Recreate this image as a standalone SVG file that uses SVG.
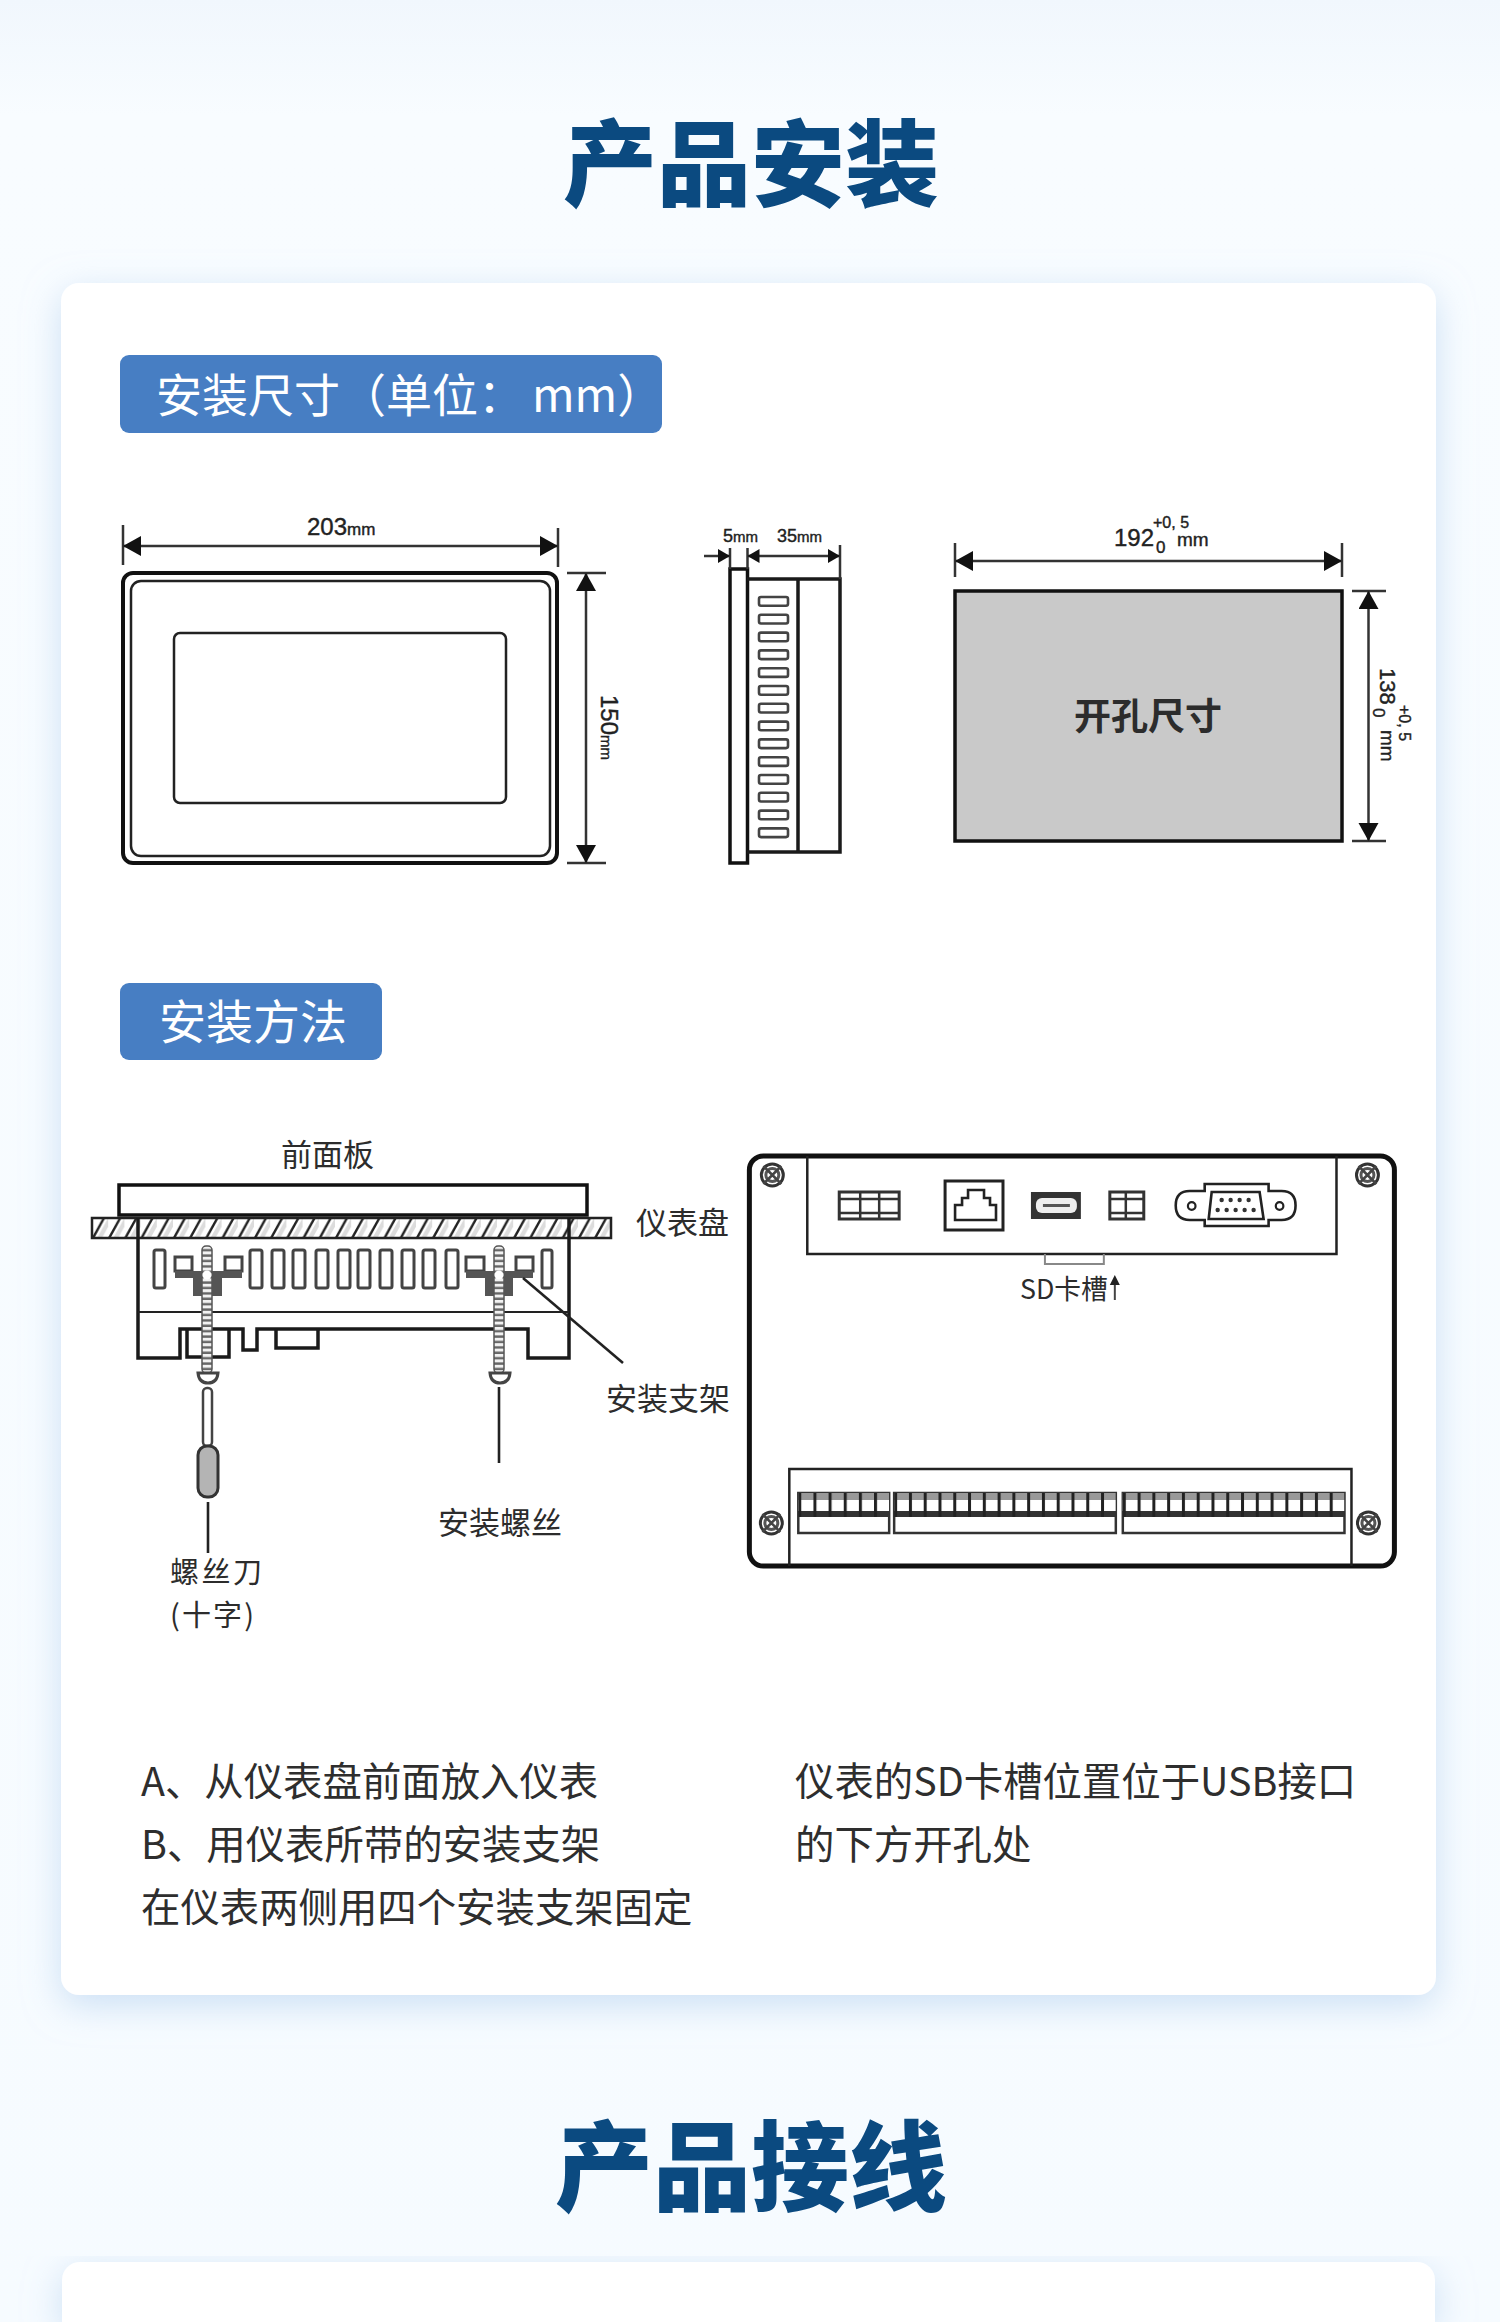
<svg xmlns="http://www.w3.org/2000/svg" width="1500" height="2322" viewBox="0 0 1500 2322">
<defs>
<style>
text{font-family:"Noto Sans CJK SC","Noto Sans",sans-serif;fill:#2c2c2c}
.title{font-weight:900;fill:#0b4a80;text-anchor:middle}
.badge{fill:#fff;font-size:46px}
.lab{font-size:31px}
.lab2{font-size:29px}
.body{font-size:39.4px;fill:#2e2e2e}
.num{font-family:"Liberation Sans",Arial,sans-serif;fill:#222;stroke:#222;stroke-width:.4}
.k{fill:none;stroke:#1a1a1a;stroke-width:3.5}
.t{fill:none;stroke:#222;stroke-width:2.5}
.g{fill:#fff;stroke:#444;stroke-width:3}
.dim{fill:none;stroke:#333;stroke-width:2.5}
.w{fill:#fff;stroke:#333;stroke-width:3}
.dk{fill:#555}
.d{fill:#333}
</style>
<linearGradient id="bg" x1="0" y1="0" x2="0" y2="1"><stop offset="0" stop-color="#f1f7fd"/><stop offset=".05" stop-color="#f8fcff"/><stop offset="1" stop-color="#f6fbff"/></linearGradient>
<filter id="sh" x="-10%" y="-10%" width="120%" height="120%"><feDropShadow dx="0" dy="10" stdDeviation="18" flood-color="#b4d0ef" flood-opacity=".65"/></filter>
<marker id="a" markerUnits="userSpaceOnUse" markerWidth="20" markerHeight="22" refX="18" refY="10" orient="auto-start-reverse"><path d="M0 0L18 10L0 20Z" fill="#111"/></marker>
<marker id="s" markerUnits="userSpaceOnUse" markerWidth="14" markerHeight="16" refX="12" refY="7" orient="auto-start-reverse"><path d="M0 0L12 7L0 14Z" fill="#111"/></marker>
<pattern id="hatch" patternUnits="userSpaceOnUse" x="92" y="1218" width="16.2" height="20"><path d="M5 20L16.2 0H21L10 20Z" fill="#dcdcdc"/><path d="M1 20L12 0" stroke="#222" stroke-width="2.4" fill="none"/></pattern>
<pattern id="thread" patternUnits="userSpaceOnUse" width="10" height="5.4" y="1246"><rect width="10" height="5.4" fill="#f2f2f2"/><rect y="3" width="10" height="2.4" fill="#666"/></pattern>
<pattern id="tA" patternUnits="userSpaceOnUse" x="800" y="1493" width="15.17" height="24"><rect width="15.2" height="24" fill="#fff"/><rect width="15.2" height="7" fill="#999"/><rect y="18" width="15.2" height="6" fill="#333"/><rect width="3" height="24" fill="#222"/></pattern>
<pattern id="tB" href="#tA" patternUnits="userSpaceOnUse" x="896" y="1493" width="14.8" height="24"/>
<pattern id="tC" href="#tA" patternUnits="userSpaceOnUse" x="1125" y="1493" width="14.8" height="24"/>
<g id="scr"><circle r="11" fill="#fff" stroke="#333" stroke-width="3"/><circle r="6.5" fill="#fff" stroke="#555" stroke-width="3"/><path d="M-9-9L9 9M-9 9L9-9" stroke="#444" stroke-width="2.5"/></g>
</defs>
<rect width="1500" height="2322" fill="url(#bg)"/>
<text class="title" x="751" y="199" font-size="94">产品安装</text>
<rect id="card1" x="61" y="283" width="1375" height="1712" rx="18" fill="#fff" filter="url(#sh)"/>
<text class="title" x="751" y="2203" font-size="98">产品接线</text>
<path id="card2" d="M62 2322V2280a18 18 0 0 1 18-18H1417a18 18 0 0 1 18 18V2322Z" fill="#fff" filter="url(#sh)"/>

<g id="badge1"><rect x="120" y="355" width="542" height="78" rx="9" fill="#477ec3"/><text class="badge" x="156" y="412">安装尺寸（单位：<tspan dx="8">mm</tspan>）</text></g>
<g id="badge2"><rect x="120" y="983" width="262" height="77" rx="9" fill="#477ec3"/><text class="badge" x="159" y="1039" style="font-size:47px">安装方法</text></g>

<g id="front-view">
<rect x="123" y="573" width="434" height="290" rx="10" fill="#fff" stroke="#111" stroke-width="4"/>
<rect x="131" y="581" width="419" height="275" rx="10" class="t" stroke="#444"/>
<rect x="174" y="633" width="332" height="170" rx="6" class="t" stroke="#555"/>
<path class="dim" d="M123 525V565M558 528V567M567 573H606M567 863H606"/>
<path class="dim" d="M123 546H558" marker-start="url(#a)" marker-end="url(#a)"/>
<path class="dim" d="M586 573V863" marker-start="url(#a)" marker-end="url(#a)"/>
<text class="num" x="307" y="535" font-size="24">203<tspan font-size="17">mm</tspan></text>
<text class="num" transform="translate(601 695) rotate(90)" font-size="24">150<tspan font-size="15">mm</tspan></text>
</g>

<g id="side-view">
<rect x="730" y="569" width="17.5" height="294" fill="#fff" stroke="#111" stroke-width="3.5"/>
<path class="k" d="M747 579H840V852H747M798 579V852"/>
<g fill="#fff" stroke="#444" stroke-width="2.6">
<rect x="759" y="597" width="29" height="8.7" rx="2"/><rect x="759" y="614.8" width="29" height="8.7" rx="2"/><rect x="759" y="632.6" width="29" height="8.7" rx="2"/><rect x="759" y="650.4" width="29" height="8.7" rx="2"/><rect x="759" y="668.2" width="29" height="8.7" rx="2"/><rect x="759" y="686" width="29" height="8.7" rx="2"/><rect x="759" y="703.8" width="29" height="8.7" rx="2"/><rect x="759" y="721.6" width="29" height="8.7" rx="2"/><rect x="759" y="739.4" width="29" height="8.7" rx="2"/><rect x="759" y="757.2" width="29" height="8.7" rx="2"/><rect x="759" y="775" width="29" height="8.7" rx="2"/><rect x="759" y="792.8" width="29" height="8.7" rx="2"/><rect x="759" y="810.6" width="29" height="8.7" rx="2"/><rect x="759" y="828.4" width="29" height="8.7" rx="2"/>
</g>
<path class="dim" stroke-width="2" d="M730 548V569M747.5 548V569M840 545V579"/>
<path class="dim" d="M704 556H730" marker-end="url(#s)"/>
<path class="dim" d="M747.5 556H840" marker-start="url(#s)" marker-end="url(#s)"/>
<text class="num" x="723" y="542" font-size="18">5<tspan font-size="15">mm</tspan></text>
<text class="num" x="777" y="542" font-size="18">35<tspan font-size="15">mm</tspan></text>
</g>

<g id="cutout">
<rect x="955" y="591" width="387" height="250" fill="#c9c9c9" stroke="#111" stroke-width="3.5"/>
<text x="1148" y="730" font-size="37" font-weight="700" text-anchor="middle" fill="#111">开孔尺寸</text>
<path class="dim" stroke-width="2" d="M955 543V577M1342 543V577M1352 591H1386M1352 841H1386"/>
<path class="dim" d="M955 561H1342" marker-start="url(#a)" marker-end="url(#a)"/>
<path class="dim" d="M1368.5 591V841" marker-start="url(#a)" marker-end="url(#a)"/>
<text class="num" x="1114" y="546" font-size="24">192</text>
<text class="num" x="1153" y="528" font-size="16">+0, 5</text>
<text class="num" x="1156" y="553" font-size="17">0</text>
<text class="num" x="1177" y="546" font-size="19">mm</text>
<text class="num" transform="translate(1380 668) rotate(90)" font-size="22">138</text>
<text class="num" transform="translate(1399 705) rotate(90)" font-size="16">+0, 5</text>
<text class="num" transform="translate(1373 708) rotate(90)" font-size="17">0</text>
<text class="num" transform="translate(1381 730) rotate(90)" font-size="19">mm</text>
</g>

<g id="mount-section">
<rect x="119" y="1185" width="468" height="30" fill="#fff" stroke="#111" stroke-width="3.5"/>
<rect x="92" y="1218" width="519" height="20" fill="url(#hatch)" stroke="#222" stroke-width="2.5"/>
<path class="k" d="M138 1218V1358H180V1329H243V1350H257V1329H528V1358H569V1218"/>
<path d="M138 1312H569" stroke="#222" stroke-width="2" fill="none"/>
<path class="k" d="M187 1329V1357H229V1329M276 1329V1348H318V1329"/>
<g class="g" stroke-width="2.6">
<rect x="154" y="1250" width="11" height="38" rx="2" class="g"/><rect x="250" y="1250" width="12" height="38" rx="2" class="g"/><rect x="272" y="1250" width="12" height="38" rx="2" class="g"/><rect x="293" y="1250" width="12" height="38" rx="2" class="g"/><rect x="316" y="1250" width="12" height="38" rx="2" class="g"/><rect x="338" y="1250" width="12" height="38" rx="2" class="g"/><rect x="358" y="1250" width="12" height="38" rx="2" class="g"/><rect x="380" y="1250" width="12" height="38" rx="2" class="g"/><rect x="402" y="1250" width="12" height="38" rx="2" class="g"/><rect x="423" y="1250" width="12" height="38" rx="2" class="g"/><rect x="446" y="1250" width="12" height="38" rx="2" class="g"/><rect x="542" y="1250" width="10" height="38" rx="2" class="g"/>
</g>
<g id="bracket-left">
<rect x="175" y="1257" width="17" height="14" class="g"/><rect x="225" y="1257" width="17" height="14" class="g"/>
<rect x="175" y="1271" width="67" height="7" class="dk"/><rect x="193" y="1278" width="29" height="18" class="dk"/>
<rect x="202" y="1246" width="10" height="127" rx="4" fill="url(#thread)" stroke="#555" stroke-width="1.5"/>
<circle cx="207" cy="1275" r="4.5" fill="#fff"/>
<path d="M198 1373H218Q217 1383 208 1383Q199 1383 198 1373Z" class="g" stroke-width="2"/>
</g>
<g id="bracket-right">
<rect x="466" y="1257" width="18" height="14" class="g"/><rect x="516" y="1257" width="17" height="14" class="g"/>
<rect x="466" y="1271" width="67" height="7" class="dk"/><rect x="485" y="1278" width="28" height="18" class="dk"/>
<rect x="494" y="1246" width="10" height="127" rx="4" fill="url(#thread)" stroke="#555" stroke-width="1.5"/>
<circle cx="499" cy="1275" r="4.5" fill="#fff"/>
<path d="M490 1373H510Q509 1383 500 1383Q491 1383 490 1373Z" class="g" stroke-width="2"/>
</g>
<g id="screwdriver">
<rect x="203" y="1388" width="9" height="58" rx="4" fill="#fff" stroke="#444" stroke-width="2.5"/>
<rect x="198" y="1446" width="20" height="51" rx="9" fill="#b4b4b4" stroke="#333" stroke-width="3"/>
</g>
<text class="lab" x="281" y="1166">前面板</text>
<text class="lab" x="636" y="1234">仪表盘</text>
<text class="lab" x="606" y="1410">安装支架</text>
<text class="lab" x="438" y="1534">安装螺丝</text>
<text class="lab2" x="170" y="1583" textLength="92">螺丝刀</text>
<text class="lab2" x="170" y="1626" textLength="84">(十字)</text>
</g>

<g id="connectors" fill="none" stroke="#222" stroke-width="2.6">
<path d="M523 1278L623 1363"/>
<path d="M208 1502V1553"/>
<path d="M499 1387V1463"/>
</g>

<g id="rear-view" transform="translate(-0.5 0) scale(.9985 1)">
<rect x="751" y="1156" width="646" height="410" rx="14" fill="#fff" stroke="#111" stroke-width="5"/>
<path d="M809 1156V1254H1339V1156" class="t" stroke="#333"/>
<path d="M791 1566V1469H1354V1566" class="t" stroke="#333"/>
<path d="M1047 1254V1264H1106V1254" fill="none" stroke="#888" stroke-width="2"/>
<use href="#scr" x="774" y="1175"/><use href="#scr" x="1370" y="1175"/><use href="#scr" x="773" y="1523"/><use href="#scr" x="1371" y="1523"/>
<g id="term3"><rect x="841" y="1192" width="60" height="27" fill="#fff" stroke="#333" stroke-width="3"/><path d="M862 1192V1219M881 1192V1219M841 1199H901M841 1213H901" stroke="#333" stroke-width="2.5" fill="none"/></g>
<g id="rj45"><rect x="947" y="1181" width="58" height="49" fill="#fff" stroke="#222" stroke-width="3"/><path d="M957 1220V1205H964V1198H970V1190H986V1198H992V1205H998V1220Z" fill="none" stroke="#222" stroke-width="2.6"/></g>
<g id="usb"><rect x="1033" y="1192" width="50" height="27" class="d"/><rect x="1038" y="1198" width="41" height="15" rx="6" fill="#eee"/><path d="M1045 1205.5H1072" stroke="#555" stroke-width="3"/></g>
<g id="term2"><rect x="1112" y="1192" width="34" height="27" fill="#fff" stroke="#333" stroke-width="3"/><path d="M1128 1192V1219M1112 1199H1146M1112 1213H1146" stroke="#333" stroke-width="2.5" fill="none"/></g>
<g id="db9">
<path d="M1207 1191V1184H1271V1191H1284Q1298 1191 1298 1205.5Q1298 1220 1284 1220H1271V1226H1207V1220H1192Q1178 1220 1178 1205.5Q1178 1191 1192 1191Z" fill="#fff" stroke="#222" stroke-width="2.6"/>
<path d="M1214 1192H1262L1266 1219H1211Z" fill="#fff" stroke="#222" stroke-width="2.6"/>
<circle cx="1194" cy="1206" r="3.8" fill="#fff" stroke="#222" stroke-width="2.2"/><circle cx="1282" cy="1206" r="3.8" fill="#fff" stroke="#222" stroke-width="2.2"/>
<g class="d"><circle cx="1224" cy="1200" r="2.2"/><circle cx="1233" cy="1200" r="2.2"/><circle cx="1242" cy="1200" r="2.2"/><circle cx="1251" cy="1200" r="2.2"/><circle cx="1220" cy="1210" r="2.2"/><circle cx="1229" cy="1210" r="2.2"/><circle cx="1238" cy="1210" r="2.2"/><circle cx="1247" cy="1210" r="2.2"/><circle cx="1256" cy="1210" r="2.2"/></g>
</g>
<text x="1022" y="1299" font-size="27" textLength="88" lengthAdjust="spacingAndGlyphs">SD卡槽</text>
<path d="M1117 1300V1282" stroke="#444" stroke-width="2"/><path d="M1117 1275L1122 1285H1112Z" fill="#222"/>
<g id="block-a"><rect x="800" y="1493" width="91" height="40" fill="#fff" stroke="#333" stroke-width="2.5"/><rect x="800" y="1493" width="91" height="24" fill="url(#tA)"/></g>
<g id="block-b"><rect x="896" y="1493" width="222" height="40" fill="#fff" stroke="#333" stroke-width="2.5"/><rect x="896" y="1493" width="222" height="24" fill="url(#tB)"/></g>
<g id="block-c"><rect x="1125" y="1493" width="222" height="40" fill="#fff" stroke="#333" stroke-width="2.5"/><rect x="1125" y="1493" width="222" height="24" fill="url(#tC)"/></g>
</g>

<g id="notes">
<text class="body" x="141" y="1796">A、从仪表盘前面放入仪表</text>
<text class="body" x="141" y="1859">B、用仪表所带的安装支架</text>
<text class="body" x="141" y="1922">在仪表两侧用四个安装支架固定</text>
<text class="body" x="795" y="1796">仪表的SD卡槽位置位于USB接口</text>
<text class="body" x="795" y="1859">的下方开孔处</text>
</g>
</svg>
